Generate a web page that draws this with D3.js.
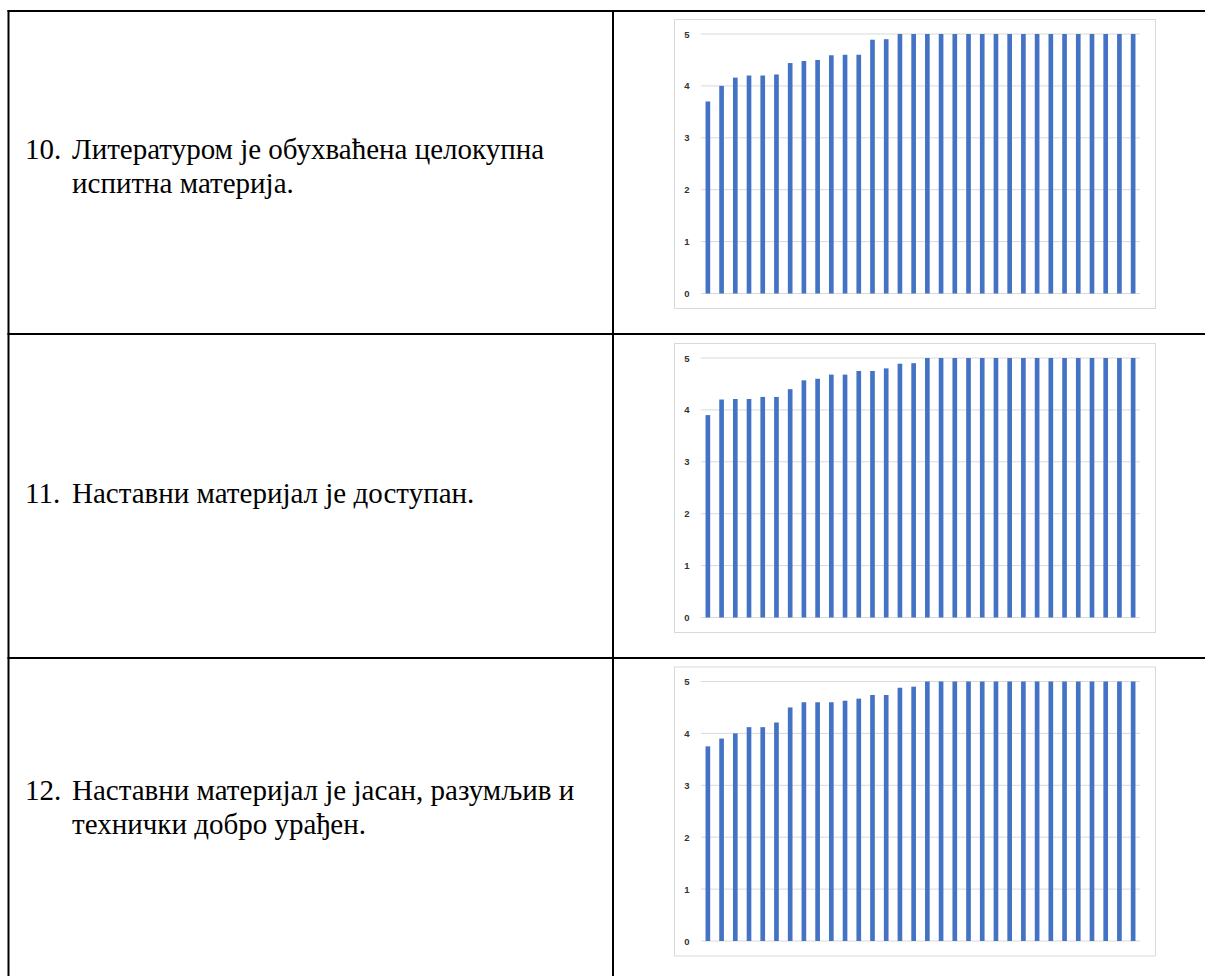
<!DOCTYPE html>
<html>
<head>
<meta charset="utf-8">
<script src="https://cdn.jsdelivr.net/npm/d3@7"></script>
<style>
	body { margin:0; background:#fff; }
	svg { display:block; }
	.item { font-family: "Liberation Serif", "Times New Roman", "DejaVu Serif", serif; font-size: 29px; fill: #000; }
	.tick { font-family: "Liberation Sans", Arial, sans-serif; font-size: 9.5px; font-weight: bold; fill: #333; }
</style>
</head>
<body>
<div id="page"></div>
<script>
// survey items (left column)
var itemNumbers = ["10.", "11.", "12."];
var itemLines = [
	["Литературом је обухваћена целокупна", "испитна материја."],
	["Наставни материјал је доступан."],
	["Наставни материјал је јасан, разумљив и", "технички добро урађен."]
];

// average grades per respondent, sorted (32 bars each)
var values10 = [3.7, 4.0, 4.16, 4.2, 4.2, 4.22, 4.44, 4.48, 4.5, 4.59, 4.6, 4.6, 4.89, 4.9,
	5, 5, 5, 5, 5, 5, 5, 5, 5, 5, 5, 5, 5, 5, 5, 5, 5, 5];
var values11 = [3.9, 4.2, 4.21, 4.21, 4.25, 4.25, 4.4, 4.57, 4.6, 4.68, 4.68, 4.75, 4.75, 4.8, 4.89, 4.9,
	5, 5, 5, 5, 5, 5, 5, 5, 5, 5, 5, 5, 5, 5, 5, 5];
var values12 = [3.75, 3.9, 4.0, 4.12, 4.12, 4.21, 4.5, 4.6, 4.6, 4.6, 4.63, 4.67, 4.74, 4.74, 4.88, 4.9,
	5, 5, 5, 5, 5, 5, 5, 5, 5, 5, 5, 5, 5, 5, 5, 5];
var yTicks = [0, 1, 2, 3, 4, 5];

var series = [values10, values11, values12];

var W = 1205, H = 976;
var rowTops = [11, 334, 658];
var firstBaselines = [159, 503, 800];
var lineH = 33.5;
var colX = 613;

var svg = d3.select("#page")
.append("svg")
.attr("width", W)
.attr("height", H);

// table lines
var grid = svg.append("g").attr("stroke", "#000").attr("stroke-width", 2);
grid.selectAll("line.h")
.data(rowTops)
.enter()
.append("line")
.attr("class", "h")
.attr("x1", 7.5)
.attr("x2", W)
.attr("y1", function(d)
{
	return d;
})
.attr("y2", function(d)
{
	return d;
});
grid.append("line").attr("x1", 8.5).attr("x2", 8.5).attr("y1", 10).attr("y2", H);
grid.append("line").attr("x1", colX).attr("x2", colX).attr("y1", 10).attr("y2", H);

// item text
for(var r=0;r<3;r++)
{
	var base = firstBaselines[r];
	var t = svg.append("g");
	t.append("text")
	.attr("class", "item")
	.attr("x", 25)
	.attr("y", base)
	.text(itemNumbers[r]);
	t.selectAll("text.l")
	.data(itemLines[r])
	.enter()
	.append("text")
	.attr("class", "item l")
	.attr("x", 72)
	.attr("y", function(d, i)
	{
		return base + i*lineH;
	})
	.text(function(d)
	{
		return d;
	});
}

// charts
var frameTops = [19.5, 343.5, 667];
for(var k=0;k<3;k++)
{
	var ft = frameTops[k];
	var g = svg.append("g");

	g.append("rect")
	.attr("x", 674.5)
	.attr("y", ft)
	.attr("width", 481)
	.attr("height", 289)
	.attr("fill", "#fff")
	.attr("stroke", "#d9d9d9")
	.attr("stroke-width", 1);

	var x = d3.scaleBand()
	.domain(d3.range(series[k].length))
	.range([701, 1140])
	.paddingInner(0.66)
	.paddingOuter(0.33);

	var y = d3.scaleLinear()
	.domain([0, 5])
	.range([ft + 274, ft + 14.5]);

	g.selectAll("line.grid")
	.data(yTicks)
	.enter()
	.append("line")
	.attr("class", "grid")
	.attr("x1", 701)
	.attr("x2", 1140)
	.attr("y1", function(d)
	{
		return y(d);
	})
	.attr("y2", function(d)
	{
		return y(d);
	})
	.attr("stroke", "#d9d9d9")
	.attr("stroke-width", 1);

	g.selectAll("rect.bar")
	.data(series[k])
	.enter()
	.append("rect")
	.attr("class", "bar")
	.attr("x", function(d, i)
	{
		return x(i);
	})
	.attr("width", x.bandwidth())
	.attr("y", function(d)
	{
		return y(d);
	})
	.attr("height", function(d)
	{
		return y(0) - y(d);
	})
	.attr("fill", "#4472c4");

	g.selectAll("text.tick")
	.data(yTicks)
	.enter()
	.append("text")
	.attr("class", "tick")
	.attr("x", 689.5)
	.attr("y", function(d)
	{
		return y(d) + 3.5;
	})
	.attr("text-anchor", "end")
	.text(function(d)
	{
		return d;
	});
}
</script>
</body>
</html>
